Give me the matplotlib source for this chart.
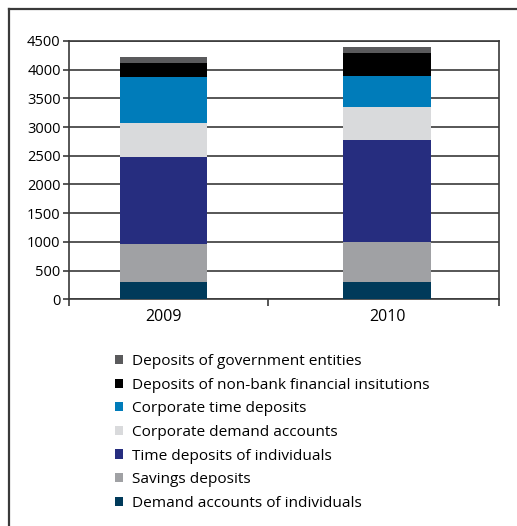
import numpy as np
import matplotlib.pyplot as plt
from matplotlib.patches import Patch
from matplotlib.lines import Line2D

plt.rcParams['font.family'] = ['Open Sans', 'DejaVu Sans']

# data
years = ['2009', '2010']
series = ['Demand accounts of individuals', 'Savings deposits',
          'Time deposits of individuals', 'Corporate demand accounts',
          'Corporate time deposits', 'Deposits of non-bank financial insitutions',
          'Deposits of government entities']
demand_ind = [300, 300]
savings = [665, 690]
time_ind = [1510, 1790]
corp_demand = [595, 575]
corp_time = [810, 540]
non_bank = [245, 390]
government = [95, 105]
values = [demand_ind, savings, time_ind, corp_demand, corp_time, non_bank, government]
colors = ['#003a5a', '#a0a1a4', '#262d7f', '#d9dadc', '#007cba', '#000000', '#5a5a5c']

fig = plt.figure(figsize=(5.17, 5.26), dpi=100)
ax = fig.add_axes([69 / 517, 1 - 299.3 / 526, 430 / 517, 258.3 / 526])

x = np.arange(len(years))
bottom = np.zeros(len(years))
for vals, c, name in zip(values, colors, series):
    ax.bar(x, vals, width=0.39, bottom=bottom, color=c, label=name, zorder=3)
    bottom += np.array(vals)

ax.set_ylim(0, 4500)
ax.set_yticks(np.arange(0, 4501, 500))
ax.set_xlim(-0.423, 1.501)
ax.set_xticks(x)
ax.set_xticklabels(years, fontsize=11.5)
ax.set_xticks([-0.423, 0.466, 1.501], minor=True)
ax.tick_params(axis='x', which='major', length=0, pad=7)
ax.tick_params(axis='x', which='minor', length=5, width=1.2, color='#3a3a3a')
ax.tick_params(axis='y', length=4, width=1.2, color='#3a3a3a', labelsize=10.5, pad=2)
ax.yaxis.grid(True, color='#3a3a3a', linewidth=1.2, zorder=0)
ax.set_axisbelow(True)
for s in ax.spines.values():
    s.set_color('#3a3a3a')
    s.set_linewidth(1.2)

# legend, top entry first
handles = [Patch(facecolor=c) for c in colors][::-1]
fig.legend(handles, series[::-1], loc='upper left', bbox_to_anchor=(115 / 517, 1 - 354 / 526),
           frameon=False, fontsize=11.1, handlelength=0.55, handleheight=0.55,
           handletextpad=0.55, labelspacing=0.56, borderpad=0, borderaxespad=0)

# outer frame lines (left and top)
fig.add_artist(Line2D([8.5 / 517, 1], [1 - 9 / 526, 1 - 9 / 526], color='#3a3a3a', linewidth=1.6))
fig.add_artist(Line2D([8.5 / 517, 8.5 / 517], [0, 1 - 9 / 526], color='#3a3a3a', linewidth=1.6))

plt.savefig('out.png', dpi=100)
